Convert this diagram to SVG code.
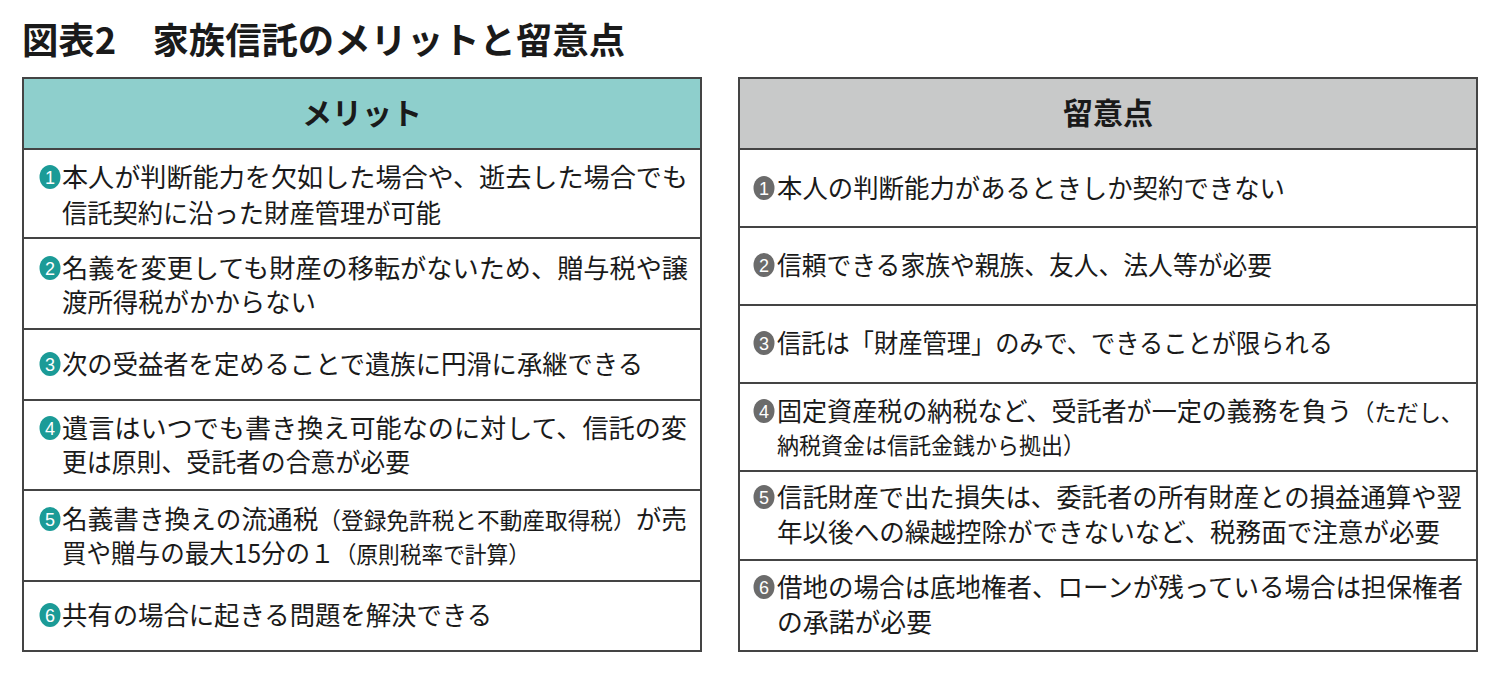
<svg xmlns="http://www.w3.org/2000/svg" width="1500" height="674" viewBox="0 0 1500 674">
<style>
text{font-family:"Noto Sans CJK JP","Noto Sans",sans-serif;fill:#1a1a1a}
.t{font-size:26px}
.s{font-size:23px}
.h{font-size:30px;font-weight:bold;text-anchor:middle}
.title{font-size:36px;font-weight:bold}
.cell{fill:#fff;stroke:#444;stroke-width:2}
.hl{fill:#8ecfcc;stroke:#444;stroke-width:2}
.hr{fill:#c8c9c9;stroke:#444;stroke-width:2}
.cl{fill:#1b9b97}
.cr{fill:#6b6b6b}
.n{font-size:18px;fill:#fff;text-anchor:middle;font-family:"Liberation Sans",Arial,sans-serif}
</style>
<rect width="1500" height="674" fill="#fff"/>
<text id="title" class="title" x="22" y="54" textLength="603" lengthAdjust="spacingAndGlyphs">図表2　家族信託のメリットと留意点</text>

<g id="merit">
<rect class="hl" x="23" y="78" width="678" height="71"/>
<text class="h" x="362" y="124">メリット</text>
<g id="m1"><rect class="cell" x="23" y="149" width="678" height="89"/>
<ellipse class="cl" cx="50" cy="177" rx="10.5" ry="12"/><text class="n" x="50" y="183.5">1</text>
<text class="t" x="62" y="187" textLength="626" lengthAdjust="spacingAndGlyphs">本人が判断能力を欠如した場合や、逝去した場合でも</text>
<text class="t" x="62" y="223" textLength="379" lengthAdjust="spacingAndGlyphs">信託契約に沿った財産管理が可能</text></g>
<g id="m2"><rect class="cell" x="23" y="238" width="678" height="91"/>
<ellipse class="cl" cx="50" cy="268" rx="10.5" ry="12"/><text class="n" x="50" y="274.5">2</text>
<text class="t" x="62" y="278" textLength="626" lengthAdjust="spacingAndGlyphs">名義を変更しても財産の移転がないため、贈与税や譲</text>
<text class="t" x="62" y="312" textLength="254" lengthAdjust="spacingAndGlyphs">渡所得税がかからない</text></g>
<g id="m3"><rect class="cell" x="23" y="329" width="678" height="71"/>
<ellipse class="cl" cx="50" cy="364" rx="10.5" ry="12"/><text class="n" x="50" y="370.5">3</text>
<text class="t" x="62" y="374" textLength="581" lengthAdjust="spacingAndGlyphs">次の受益者を定めることで遺族に円滑に承継できる</text></g>
<g id="m4"><rect class="cell" x="23" y="400" width="678" height="90"/>
<ellipse class="cl" cx="50" cy="428" rx="10.5" ry="12"/><text class="n" x="50" y="434.5">4</text>
<text class="t" x="62" y="438" textLength="625" lengthAdjust="spacingAndGlyphs">遺言はいつでも書き換え可能なのに対して、信託の変</text>
<text class="t" x="62" y="472" textLength="348" lengthAdjust="spacingAndGlyphs">更は原則、受託者の合意が必要</text></g>
<g id="m5"><rect class="cell" x="23" y="490" width="678" height="91"/>
<ellipse class="cl" cx="50" cy="519" rx="10.5" ry="12"/><text class="n" x="50" y="525.5">5</text>
<text class="t" x="62" y="529" textLength="625" lengthAdjust="spacingAndGlyphs">名義書き換えの流通税<tspan class="s">（登録免許税と不動産取得税）</tspan>が売</text>
<text class="t" x="62" y="563" textLength="468" lengthAdjust="spacingAndGlyphs">買や贈与の最大15分の１<tspan class="s">（原則税率で計算）</tspan></text></g>
<g id="m6"><rect class="cell" x="23" y="581" width="678" height="70"/>
<ellipse class="cl" cx="50" cy="615" rx="10.5" ry="12"/><text class="n" x="50" y="621.5">6</text>
<text class="t" x="62" y="625" textLength="430" lengthAdjust="spacingAndGlyphs">共有の場合に起きる問題を解決できる</text></g>
</g>

<g id="caution">
<rect class="hr" x="739" y="78" width="738" height="71"/>
<text class="h" x="1108" y="124">留意点</text>
<g id="c1"><rect class="cell" x="739" y="149" width="738" height="78"/>
<ellipse class="cr" cx="764" cy="188" rx="10.5" ry="12"/><text class="n" x="764" y="194.5">1</text>
<text class="t" x="777" y="198" textLength="508" lengthAdjust="spacingAndGlyphs">本人の判断能力があるときしか契約できない</text></g>
<g id="c2"><rect class="cell" x="739" y="227" width="738" height="78"/>
<ellipse class="cr" cx="764" cy="265" rx="10.5" ry="12"/><text class="n" x="764" y="271.5">2</text>
<text class="t" x="777" y="275" textLength="495" lengthAdjust="spacingAndGlyphs">信頼できる家族や親族、友人、法人等が必要</text></g>
<g id="c3"><rect class="cell" x="739" y="305" width="738" height="78"/>
<ellipse class="cr" cx="764" cy="343" rx="10.5" ry="12"/><text class="n" x="764" y="349.5">3</text>
<text class="t" x="777" y="353" textLength="556" lengthAdjust="spacingAndGlyphs">信託は「財産管理」のみで、できることが限られる</text></g>
<g id="c4"><rect class="cell" x="739" y="383" width="738" height="88"/>
<ellipse class="cr" cx="764" cy="411" rx="10.5" ry="12"/><text class="n" x="764" y="417.5">4</text>
<text class="t" x="777" y="421" textLength="686" lengthAdjust="spacingAndGlyphs">固定資産税の納税など、受託者が一定の義務を負う<tspan class="s">（ただし、</tspan></text>
<text class="s" x="777" y="454" textLength="308" lengthAdjust="spacingAndGlyphs">納税資金は信託金銭から拠出）</text></g>
<g id="c5"><rect class="cell" x="739" y="471" width="738" height="89"/>
<ellipse class="cr" cx="764" cy="497" rx="10.5" ry="12"/><text class="n" x="764" y="503.5">5</text>
<text class="t" x="777" y="507" textLength="685" lengthAdjust="spacingAndGlyphs">信託財産で出た損失は、委託者の所有財産との損益通算や翌</text>
<text class="t" x="777" y="542" textLength="663" lengthAdjust="spacingAndGlyphs">年以後への繰越控除ができないなど、税務面で注意が必要</text></g>
<g id="c6"><rect class="cell" x="739" y="560" width="738" height="91"/>
<ellipse class="cr" cx="764" cy="587" rx="10.5" ry="12"/><text class="n" x="764" y="593.5">6</text>
<text class="t" x="777" y="597" textLength="686" lengthAdjust="spacingAndGlyphs">借地の場合は底地権者、ローンが残っている場合は担保権者</text>
<text class="t" x="777" y="632" textLength="155" lengthAdjust="spacingAndGlyphs">の承諾が必要</text></g>
</g>
</svg>
